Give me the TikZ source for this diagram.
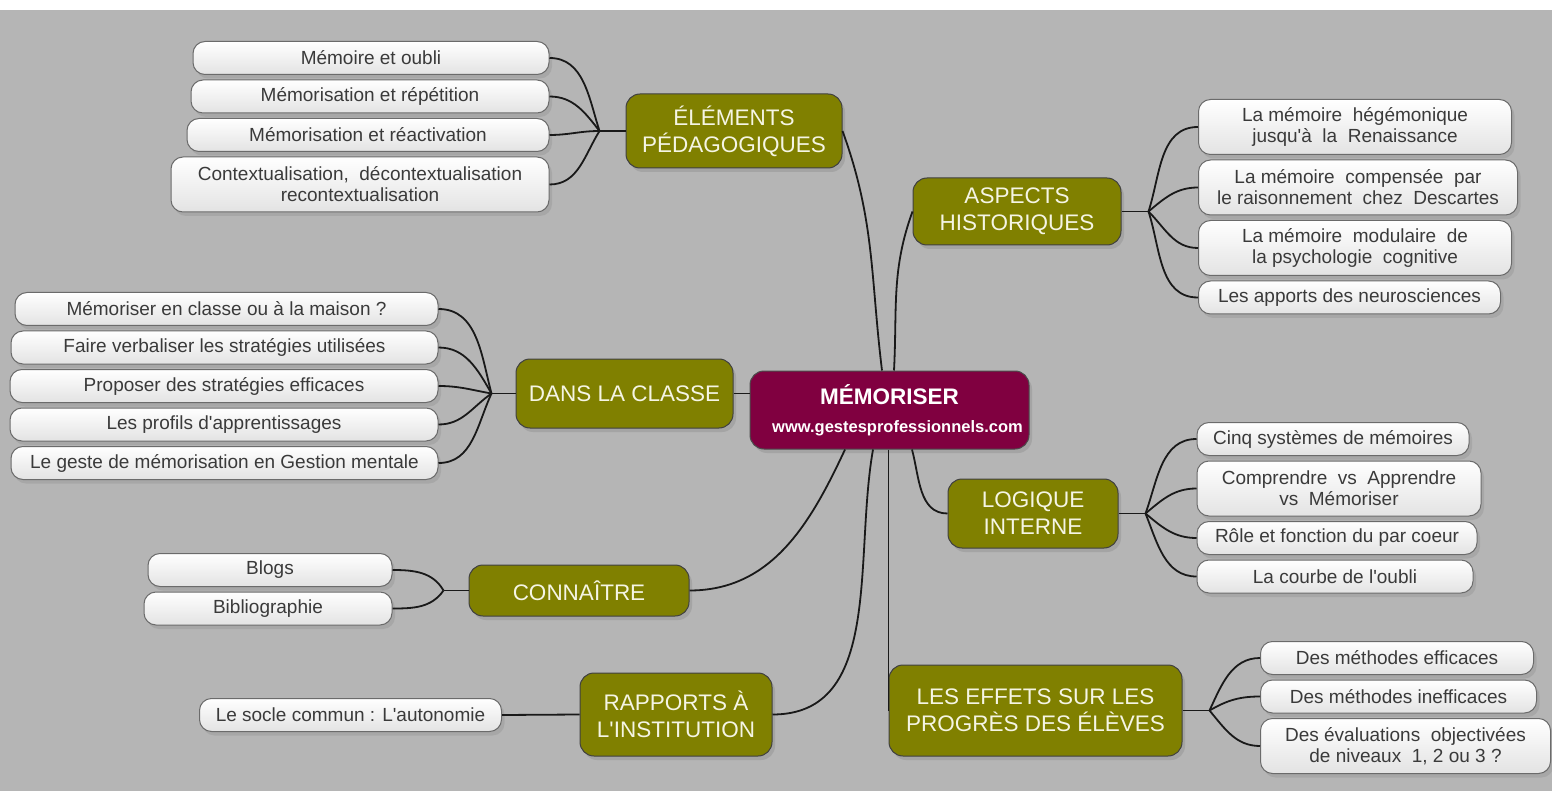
\documentclass[tikz,border=0pt]{standalone}
\usepackage{fontspec}
\setmainfont{Liberation Sans}
\usepackage{tikz}
\usetikzlibrary{positioning, shadows}
\definecolor{bggray}{RGB}{181,181,181}
\definecolor{olivebox}{RGB}{128,128,0}
\definecolor{maroonbox}{RGB}{128,0,64}
\definecolor{topictext}{RGB}{245,245,228}
\definecolor{leaftext}{RGB}{58,58,58}

\begin{document}
\begin{tikzpicture}[x=1pt, y=1pt,
    topic/.style={draw=black!75, line width=1pt, rounded corners=14pt, fill=olivebox, text=topictext, align=center, inner sep=0pt, font=\fontsize{22.5}{27}\selectfont, drop shadow={shadow xshift=3pt, shadow yshift=-4pt, opacity=0.3}},
    leaf/.style={draw=black!58, line width=1pt, rounded corners=12pt, top color=white, bottom color=black!11, text=leaftext, align=center, inner sep=0pt, minimum height=33pt, font=\fontsize{19}{21}\selectfont, drop shadow={shadow xshift=3pt, shadow yshift=-4pt, opacity=0.25}},
    twoline/.style={minimum height=55pt},
    link/.style={line width=1.8pt, black!90}
  ]
    \useasboundingbox (0,0) rectangle (1552,-791);
    \fill[white] (0,0) rectangle (1552,-791);
    \fill[bggray] (0,-10.5) rectangle (1552,-791);

    \node (mem) [draw=black!70, line width=1pt, rounded corners=14pt, fill=maroonbox, text=white, align=center, minimum width=279pt, minimum height=78pt, drop shadow={shadow xshift=3pt, shadow yshift=-4pt, opacity=0.3}] at (889.5,-410)
      {{\fontsize{22.5}{27}\selectfont\bfseries MÉMORISER}\\[15pt]{\fontsize{16.5}{20}\selectfont\bfseries \hspace*{16pt}www.gestesprofessionnels.com}};

    \node (ele) [topic, minimum width=216pt, minimum height=74pt] at (734,-131) {ÉLÉMENTS\\PÉDAGOGIQUES};
    \node (asp) [topic, minimum width=208pt, minimum height=67pt] at (1017,-211.5) {ASPECTS\\HISTORIQUES};
    \node (dans) [topic, minimum width=217pt, minimum height=69pt] at (624.5,-393.5) {DANS LA CLASSE};
    \node (log) [topic, minimum width=170pt, minimum height=69pt] at (1033,-513.5) {LOGIQUE\\INTERNE};
    \node (con) [topic, minimum width=220pt, minimum height=51pt] at (579,-590.5) {CONNAÎTRE};
    \node (rap) [topic, minimum width=192pt, minimum height=83pt] at (676,-714.5) {RAPPORTS À\\L\textquotesingle INSTITUTION};
    \node (eff) [topic, minimum width=293pt, minimum height=91pt] at (1035.5,-710.5) {LES EFFETS SUR LES\\PROGRÈS DES ÉLÈVES};

    \node (e1) [leaf, minimum width=356pt, anchor=north east] at (549.5,-41) {Mémoire et oubli};
    \node (e2) [leaf, minimum width=358pt, below=4.5pt of e1.south east, anchor=north east] {Mémorisation et répétition};
    \node (e3) [leaf, minimum width=362pt, below=4.5pt of e2.south east, anchor=north east] {Mémorisation et réactivation};
    \node (e4) [leaf, twoline, minimum width=378pt, below=4.5pt of e3.south east, anchor=north east] {Contextualisation,\ \ décontextualisation\\recontextualisation};

    \node (a1) [leaf, twoline, minimum width=313pt, anchor=north west] at (1198,-99) {La mémoire\ \ hégémonique\\jusqu\textquotesingle à\ \ la\ \ Renaissance};
    \node (a2) [leaf, twoline, minimum width=319pt, below=4.5pt of a1.south west, anchor=north west] {La mémoire\ \ compensée\ \ par\\le raisonnement\ \ chez\ \ Descartes};
    \node (a3) [leaf, twoline, minimum width=313pt, below=4.5pt of a2.south west, anchor=north west] {La mémoire\ \ modulaire\ \ de\\la psychologie\ \ cognitive};
    \node (a4) [leaf, minimum width=302pt, below=4.5pt of a3.south west, anchor=north west] {Les apports des neurosciences};

    \node (d1) [leaf, minimum width=423pt, anchor=north east] at (438.5,-292) {Mémoriser en classe ou à la maison ?};
    \node (d2) [leaf, minimum width=427pt, below=4.5pt of d1.south east, anchor=north east] {Faire verbaliser les stratégies utilisées};
    \node (d3) [leaf, minimum width=428pt, below=4.5pt of d2.south east, anchor=north east] {Proposer des stratégies efficaces};
    \node (d4) [leaf, minimum width=428pt, below=4.5pt of d3.south east, anchor=north east] {Les profils d\textquotesingle apprentissages};
    \node (d5) [leaf, minimum width=427pt, below=4.5pt of d4.south east, anchor=north east] {Le geste de mémorisation en Gestion mentale};

    \node (l1) [leaf, minimum width=272pt, anchor=north west] at (1196.5,-422) {Cinq systèmes de mémoires};
    \node (l2) [leaf, twoline, minimum width=284pt, below=4.5pt of l1.south west, anchor=north west] {Comprendre\ \ vs\ \ Apprendre\\vs\ \ Mémoriser};
    \node (l3) [leaf, minimum width=280pt, below=4.5pt of l2.south west, anchor=north west] {Rôle et fonction du par coeur};
    \node (l4) [leaf, minimum width=276pt, below=4.5pt of l3.south west, anchor=north west] {La courbe de l\textquotesingle oubli};

    \node (c1) [leaf, minimum width=244pt, anchor=north east] at (392.5,-553) {Blogs};
    \node (c2) [leaf, minimum width=248pt, below=4.5pt of c1.south east, anchor=north east] {Bibliographie};

    \node (r1) [leaf, minimum width=302pt, anchor=east] at (502,-715) {Le socle commun : L\textquotesingle autonomie};

    \node (f1) [leaf, minimum width=273pt, anchor=north west] at (1260,-641) {Des méthodes efficaces};
    \node (f2) [leaf, minimum width=276pt, below=4.5pt of f1.south west, anchor=north west] {Des méthodes inefficaces};
    \node (f3) [leaf, twoline, minimum width=290pt, below=4.5pt of f2.south west, anchor=north west] {Des évaluations\ \ objectivées\\de niveaux\ \ 1, 2 ou 3 ?};

    \coordinate (eleJ) at ([xshift=-26pt]ele.west);
    \coordinate (aspJ) at ([xshift=27pt]asp.east);
    \coordinate (dansJ) at ([xshift=-24pt]dans.west);
    \coordinate (logJ) at ([xshift=27pt]log.east);
    \coordinate (conJ) at ([xshift=-25pt]con.west);
    \coordinate (effJ) at ([xshift=27pt]eff.east);

    \draw[link] ([xshift=-7.5pt]mem.north) to[out=97, in=-70] (ele.east);
    \draw[link] ([xshift=4.5pt]mem.north) to[out=87, in=-110] (asp.west);
    \draw[link] (dans.east) -- (dans.east -| mem.west);
    \draw[link] ([xshift=22.5pt]mem.south) to[out=-75, in=180] (log.west);
    \draw[link] (mem.south -| eff.west) -- (eff.west);
    \draw[link] ([xshift=-16.5pt]mem.south) to[out=-100, in=0] (rap.east);
    \draw[link] ([xshift=-44.5pt]mem.south) to[out=-115, in=0] (con.east);

    \draw[link] (ele.west) -- (eleJ);
    \foreach \n/\a in {e1/108, e2/128, e3/180, e4/238}
      \draw[link] (eleJ) to[out=\a, in=0] (\n.east);
    \draw[link] (asp.east) -- (aspJ);
    \foreach \n/\a in {a1/72, a2/40, a3/-45, a4/-72}
      \draw[link] (aspJ) to[out=\a, in=180] (\n.west);
    \draw[link] (dans.west) -- (dansJ);
    \foreach \n/\a in {d1/105, d2/120, d3/170, d4/215, d5/245}
      \draw[link] (dansJ) to[out=\a, in=0] (\n.east);
    \draw[link] (log.east) -- (logJ);
    \foreach \n/\a in {l1/70, l2/40, l3/-40, l4/-68}
      \draw[link] (logJ) to[out=\a, in=180] (\n.west);
    \draw[link] (con.west) -- (conJ);
    \foreach \n/\a in {c1/120, c2/235}
      \draw[link] (conJ) to[out=\a, in=0] (\n.east);
    \draw[link] (rap.west) -- (r1.east);
    \draw[link] (eff.east) -- (effJ);
    \foreach \n/\a in {f1/65, f2/30, f3/-50}
      \draw[link] (effJ) to[out=\a, in=180] (\n.west);
\end{tikzpicture}
\end{document}
